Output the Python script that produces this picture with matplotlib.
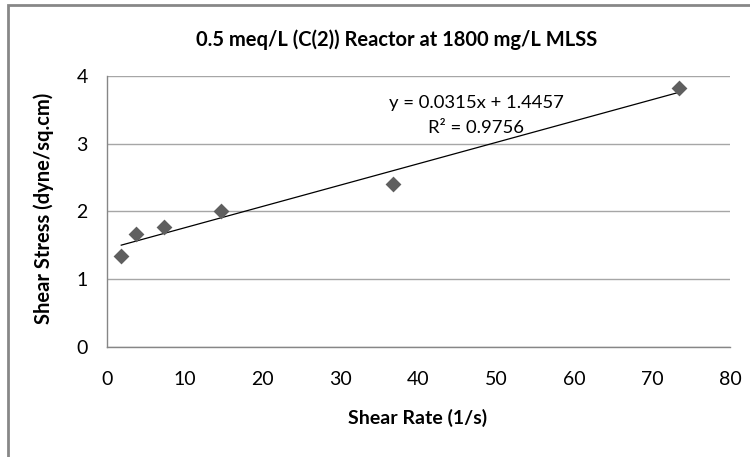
import numpy as np
import matplotlib
matplotlib.use('Agg')
import matplotlib.pyplot as plt
from matplotlib.patches import Rectangle

# shear rate (1/s) and shear stress (dyne/sq.cm)
shear_rate = [1.83, 3.67, 7.34, 14.7, 36.7, 73.4]
shear_stress = [1.34, 1.67, 1.77, 2.00, 2.41, 3.82]
slope, intercept = 0.0315, 1.4457
r2 = 0.9756

plt.rcParams['font.family'] = ['Lato', 'DejaVu Sans']

fig = plt.figure(figsize=(7.5, 4.57), dpi=100)
# outer chart border
fig.patches.append(Rectangle((7.5/750, -0.1), 1.2, 1 - 5.5/457 + 0.1, transform=fig.transFigure,
                             fill=False, edgecolor='#878787', linewidth=2, zorder=0))

ax = fig.add_axes([107/750, 1 - 347/457, (730-107)/750, (347-76)/457])

# trendline
xs = np.array([min(shear_rate), max(shear_rate)])
ax.plot(xs, slope * xs + intercept, color='black', linewidth=0.9, zorder=3)
ax.scatter(shear_rate, shear_stress, marker='D', s=65, color='#5f5f5f', zorder=4, linewidths=0)

ax.set_xlim(0, 80)
ax.set_ylim(0, 4)
ax.set_xticks(range(0, 81, 10))
ax.set_yticks(range(0, 5))
ax.grid(axis='y', color='#a6a6a6', linewidth=1)
ax.set_axisbelow(True)
for s in ['top', 'right']:
    ax.spines[s].set_visible(False)
for s in ['left', 'bottom']:
    ax.spines[s].set_color('#868686')
    ax.spines[s].set_linewidth(1)
ax.tick_params(length=0, labelsize=14, colors='black')
ax.tick_params(axis='x', pad=17)
ax.tick_params(axis='y', pad=14)

fig.text(397/750, 1 - 40/457, '0.5 meq/L (C(2)) Reactor at 1800 mg/L MLSS',
         ha='center', va='center', fontsize=14.5, fontweight='bold')
fig.text(418/750, 1 - 418/457, 'Shear Rate (1/s)', ha='center', va='center',
         fontsize=14, fontweight='bold')
fig.text(44/750, 1 - 208/457, 'Shear Stress (dyne/sq.cm)', ha='center', va='center',
         fontsize=14.5, fontweight='bold', rotation=90)

ax.annotate('y = %.4fx + %.4f' % (slope, intercept), xy=(476/750, 1 - 103/457),
            xycoords='figure fraction', ha='center', va='center', fontsize=13.3)
ax.annotate('R\u00b2 = %.4f' % r2, xy=(476/750, 1 - 128/457),
            xycoords='figure fraction', ha='center', va='center', fontsize=13.3)

fig.savefig('out.png', dpi=100)
